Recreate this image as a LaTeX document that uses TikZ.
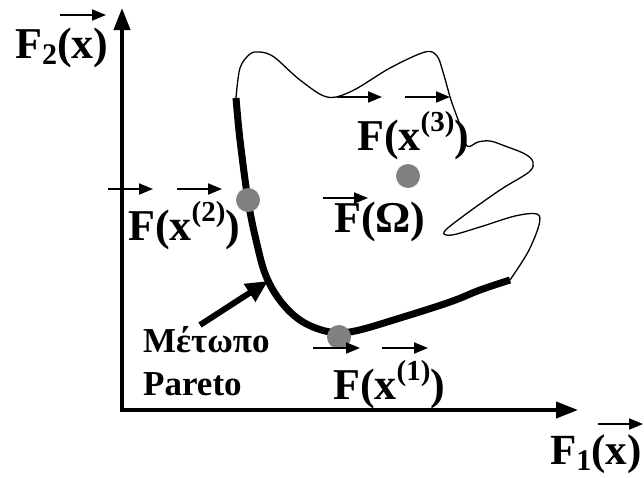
\documentclass[tikz,border=0pt]{standalone}
\usepackage{fontspec}
\setmainfont{Liberation Serif}
\usetikzlibrary{arrows.meta}
\definecolor{dotgray}{RGB}{128,128,128}
\newcommand{\supidx}[1]{\raisebox{19pt}{\fontsize{29}{31}\selectfont #1}}
\newcommand{\subidx}[1]{\raisebox{-6pt}{\fontsize{30}{32}\selectfont #1}}
\begin{document}
\begin{tikzpicture}[x=1pt,y=-1pt,
  lbl/.style={font=\fontsize{44}{48}\selectfont\bfseries, inner sep=0pt, anchor=base west},
  small/.style={font=\fontsize{35}{38}\selectfont\bfseries, inner sep=0pt, anchor=base west},
  vec/.style={line width=2pt, -{Triangle[length=14pt,width=11pt]}},
  axis/.style={line width=4pt, -{Triangle[length=22pt,width=16pt]}},
  dot/.style={circle, fill=dotgray, minimum size=24pt, inner sep=0pt},
  boundary/.style={line width=1.3pt},
  front/.style={line width=7pt}]
\useasboundingbox (0,0) rectangle (644,477);
% axes
\coordinate (O) at (122,410);
\coordinate (ytip) at (122,8);
\coordinate (xtip) at (578,410);
\draw[axis] (122,412) -- (ytip);
\draw[axis] (120,410) -- (xtip);
% feasible region boundary
\draw[boundary] plot[smooth, tension=0.55] coordinates {
 (236,98) (240,68) (250,54) (260,52) (274,57) (300,80) (327,97) (352,91)
 (390,68) (425,52) (437,56) (443,72) (451,100) (460,125) (467,146)
 (478,142) (490,141) (505,146) (525,154) (533,162) (529,172) (500,190)
 (462,217) (444,232) (452,235) (480,227) (515,216) (537,214) (539,225)
 (528,252) (510,280)};
% Pareto front
\draw[front] plot[smooth, tension=0.6] coordinates {
 (236,98) (240,140) (248,200) (256,240) (266,276) (282,303) (303,322)
 (330,332) (355,331) (400,318) (450,302) (480,290) (510,280)};
% points
\node[dot] (p2) at (248,200) {};
\node[dot] (pO) at (408,176) {};
\node[dot] (p1) at (339,337) {};
% axis labels
\node[lbl] (f2) at (15,58) {F\subidx{2}(x)};
\draw[vec] (60,15) -- (106,15);
\node[lbl, font=\fontsize{43}{46}\selectfont\bfseries] (f1) at (550,464) {F\subidx{1}(x)};
\draw[vec] (598,424) -- (643,424);
% point labels
\node[lbl] (l2) at (128,240) {F(x\supidx{(2)})};
\draw[vec] (108,189) -- (153,189);
\draw[vec] (177,189) -- (222,189);
\node[lbl] (l3) at (357,150) {F(x\supidx{(3)})};
\draw[vec] (337,97) -- (382,97);
\draw[vec] (405,97) -- (450,97);
\node[lbl] (lO) at (334,232) {F(Ω)};
\draw[vec] (323,198) -- (368,198);
\node[lbl] (l1) at (333,399) {F(x\supidx{(1)})};
\draw[vec] (313,348) -- (360,348);
\draw[vec] (382,348) -- (428,348);
% Pareto label
\node[small] (m) at (143,352) {Μέτωπο};
\node[small] (pa) at (143,395) {Pareto};
\coordinate (pt) at (200,325);
\coordinate (ph) at (268,281);
\draw[line width=6pt, -{Triangle[length=22pt,width=20pt]}] (pt) -- (ph);
\end{tikzpicture}
\end{document}
